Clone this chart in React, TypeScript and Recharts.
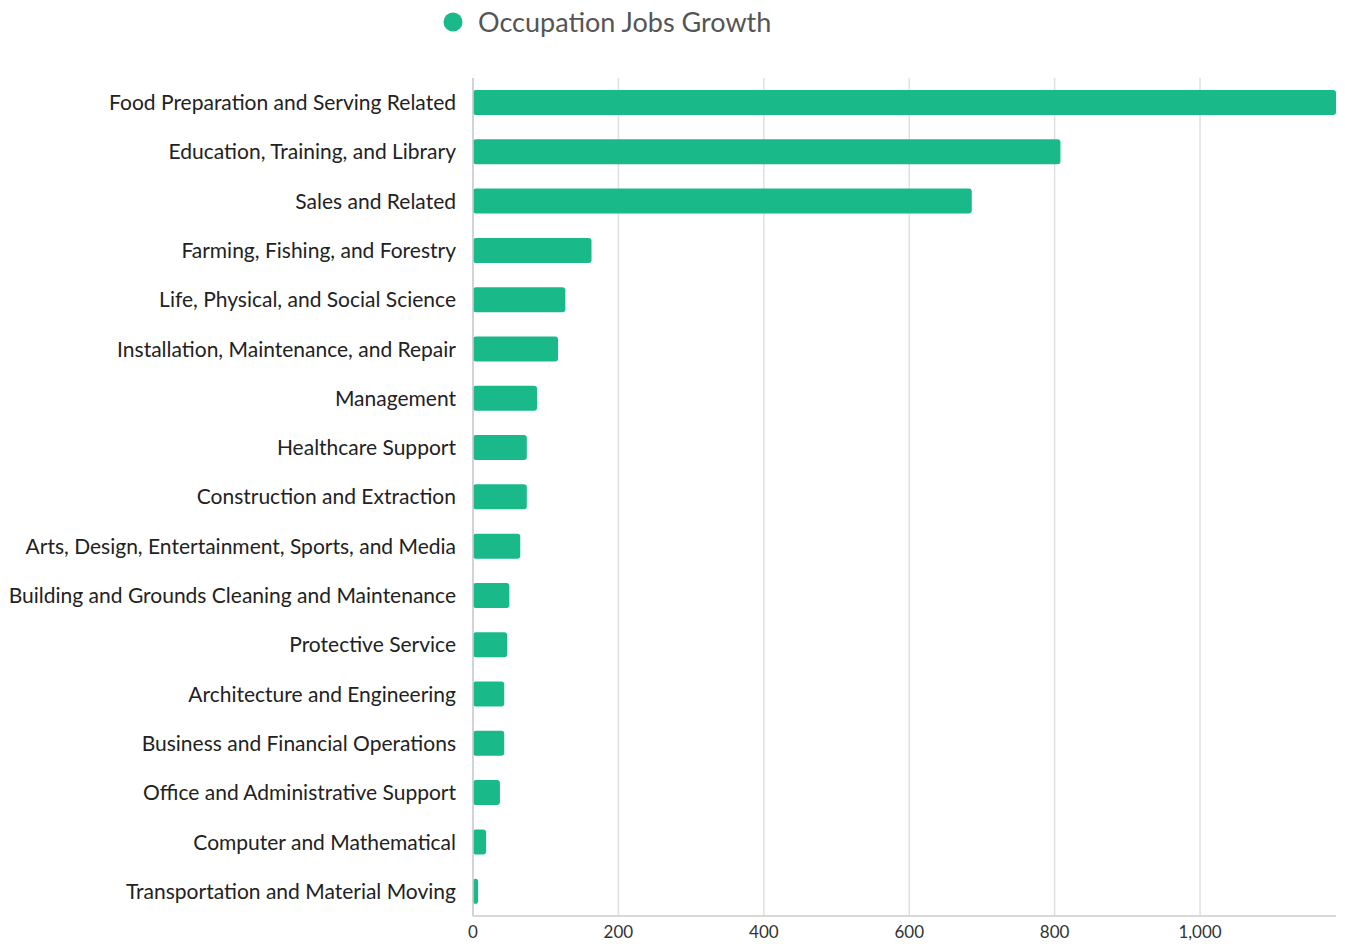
import { Bar, BarChart, CartesianGrid, Legend, XAxis, YAxis } from "recharts";

const occupations = [
  "Food Preparation and Serving Related",
  "Education, Training, and Library",
  "Sales and Related",
  "Farming, Fishing, and Forestry",
  "Life, Physical, and Social Science",
  "Installation, Maintenance, and Repair",
  "Management",
  "Healthcare Support",
  "Construction and Extraction",
  "Arts, Design, Entertainment, Sports, and Media",
  "Building and Grounds Cleaning and Maintenance",
  "Protective Service",
  "Architecture and Engineering",
  "Business and Financial Operations",
  "Office and Administrative Support",
  "Computer and Mathematical",
  "Transportation and Material Moving",
];

const jobsGrowth = [1187, 808, 686, 163, 127, 117, 88, 74, 74, 65, 50, 47, 43, 43, 37, 18, 7];

const xTicks = [0, 200, 400, 600, 800, 1000];

const seriesName = "Occupation Jobs Growth";
const barColor = "#1ab98a";

const data = occupations.map((name, i) => ({ name, value: jobsGrowth[i] }));
const maxValue = Math.max(...jobsGrowth);

const fmt = (v: number) => v.toLocaleString("en-US");

function LegendContent() {
  return (
    <div style={{ display: "flex", alignItems: "center", fontFamily: "Lato", fontSize: 27, color: "#555", lineHeight: "32px" }}>
      <svg width={20} height={20} style={{ marginRight: 15 }}>
        <circle cx={10} cy={10} r={9.5} fill={barColor} />
      </svg>
      <span>{seriesName}</span>
    </div>
  );
}

// grid only at the tick values, no line at the domain edge
const gridX = (props: any) => {
  const { xAxis, offset } = props;
  if (xAxis && typeof xAxis.scale === "function") {
    return xTicks.map((t) => xAxis.scale(t));
  }
  return xTicks.map((t) => offset.left + (t / maxValue) * offset.width);
};

export default function App() {
  return (
    <div style={{ position: "absolute", left: 0, top: 0, background: "#fff" }}>
      <BarChart
        width={1345}
        height={944}
        data={data}
        layout="vertical"
        margin={{ top: 46, right: 9, bottom: 0, left: 0 }}
        barSize={25}
        style={{ fontFamily: "Lato" }}
      >
        <CartesianGrid horizontal={false} stroke="#e0e0e0" strokeWidth={1.5} verticalCoordinatesGenerator={gridX} />
        <XAxis
          type="number"
          domain={[0, "dataMax"]}
          ticks={xTicks}
          tickFormatter={fmt}
          height={28}
          tickSize={0}
          tickMargin={10}
          axisLine={{ stroke: "#cccccc", strokeWidth: 1.5 }}
          tickLine={false}
          tick={{ fill: "#333", fontSize: 17 }}
        />
        <YAxis
          dataKey="name"
          type="category"
          width={473}
          tickSize={0}
          tickMargin={17}
          axisLine={{ stroke: "#cccccc", strokeWidth: 1.5 }}
          tickLine={false}
          interval={0}
          tick={{ fill: "#222", fontSize: 21 }}
        />
        <Legend
          verticalAlign="top"
          content={<LegendContent />}
          wrapperStyle={{ top: 6, left: 443, width: "auto" }}
        />
        <Bar dataKey="value" name={seriesName} fill={barColor} radius={3} isAnimationActive={false} />
      </BarChart>
    </div>
  );
}
